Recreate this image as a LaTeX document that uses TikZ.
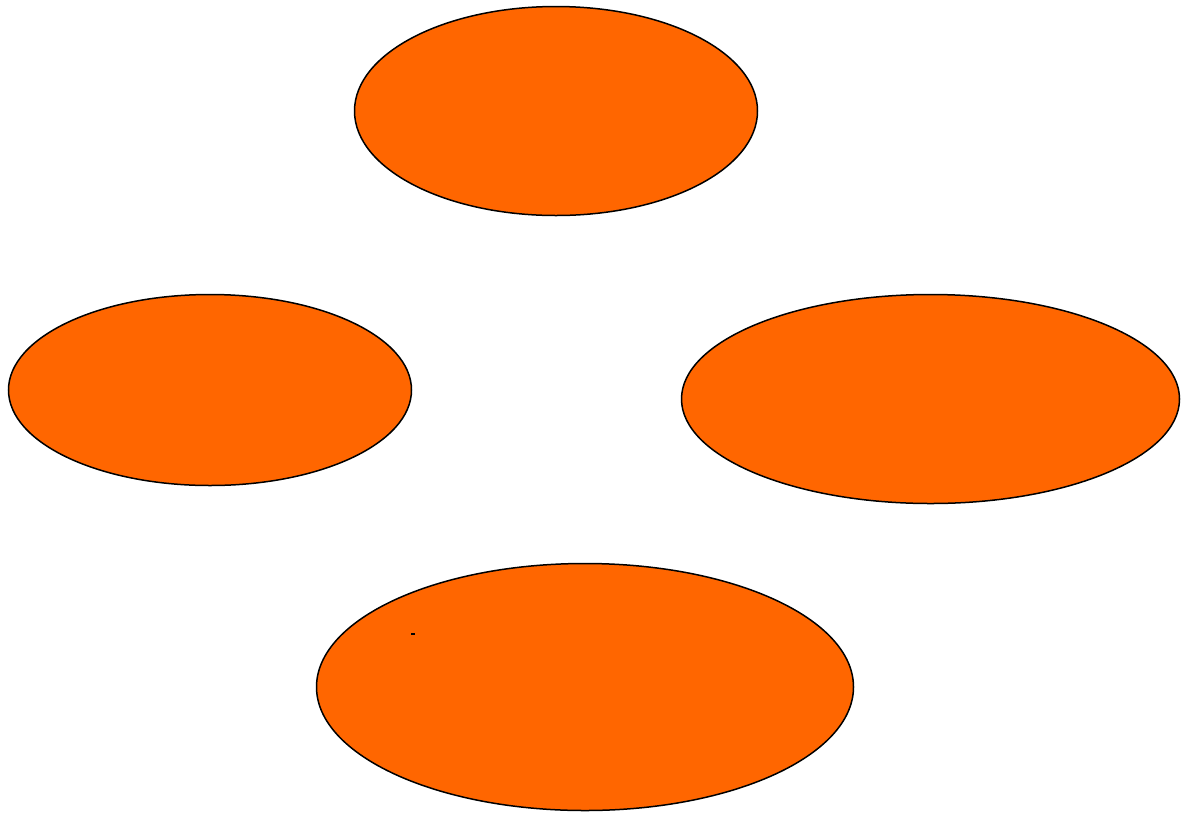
\documentclass[tikz,border=0pt]{standalone}
\usepackage{xcolor}
\definecolor{bubbleOrange}{RGB}{255, 102, 0}
\usepackage{tikz}
\usetikzlibrary{shapes.geometric, positioning}

\begin{document}
\begin{tikzpicture}[x=1pt, y=1pt,
    bubble/.style={
        ellipse, draw=black, fill=bubbleOrange, line width=1.5pt,
        inner sep=0pt
    },
    speck/.style={
        rectangle, fill=black, inner sep=0pt,
        minimum width=3.5pt, minimum height=2pt
    }
]
\useasboundingbox (0,0) rectangle (1191,-812);

\node[bubble, minimum width=403pt, minimum height=209pt] (b1) at (556,-111)   {};
\node[bubble, minimum width=403pt, minimum height=191pt] (b2) at (210,-390)   {};
\node[bubble, minimum width=498pt, minimum height=209pt] (b3) at (930.5,-399) {};
\node[bubble, minimum width=537pt, minimum height=247pt] (b4) at (585,-687)   {};

\node[speck] (s1) at (413,-634) {};

\end{tikzpicture}
\end{document}
